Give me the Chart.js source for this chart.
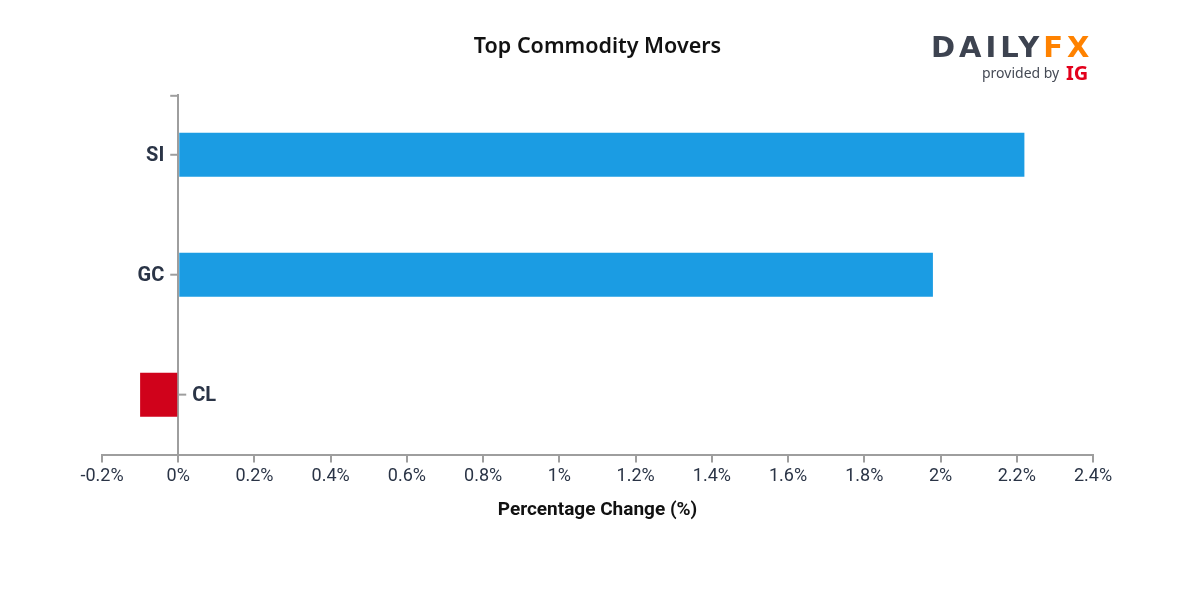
<!DOCTYPE html>
<html>
<head>
<meta charset="utf-8">
<script src="https://cdn.jsdelivr.net/npm/chart.js@4/dist/chart.umd.min.js"></script>
<style>
  html, body { margin: 0; padding: 0; background: #ffffff; }
  #wrap { position: relative; width: 1200px; height: 600px; }
</style>
</head>
<body>
<div id="wrap"><canvas id="c"></canvas></div>
<script>
const categories = ['SI', 'GC', 'CL'];
const values = [2.22, 1.98, -0.10];
const xTickMin = -0.2;
const xTickMax = 2.4;
const xTickStep = 0.2;
const titleText = 'Top Commodity Movers';
const xAxisTitle = 'Percentage Change (%)';

const AXIS_COLOR = '#9e9e9e';
const TEXT_COLOR = '#2a3446';
const POS_COLOR = '#1b9ce3';
const NEG_COLOR = '#d0021b';

const yTicksPlugin = {
  id: 'yTicks',
  afterDraw(chart) {
    const { ctx, scales: { x, y } } = chart;
    const x0 = x.getPixelForValue(0);
    ctx.save();
    ctx.strokeStyle = AXIS_COLOR;
    ctx.lineWidth = 2;
    ctx.beginPath();
    ctx.moveTo(x0 - 8, y.top + 1);
    ctx.lineTo(x0, y.top + 1);
    ctx.stroke();
    ctx.font = 'bold 20px Roboto';
    ctx.fillStyle = TEXT_COLOR;
    ctx.textBaseline = 'middle';
    categories.forEach((c, i) => {
      const py = y.getPixelForValue(i);
      const dir = values[i] < 0 ? 1 : -1;
      ctx.beginPath();
      ctx.moveTo(x0, py);
      ctx.lineTo(x0 + dir * 8, py);
      ctx.stroke();
      ctx.textAlign = dir > 0 ? 'left' : 'right';
      ctx.fillText(c, x0 + dir * 14, py + 1);
    });
    ctx.restore();
  }
};

const logoPlugin = {
  id: 'logo',
  afterDraw(chart) {
    const ctx = chart.ctx;
    ctx.save();
    ctx.textBaseline = 'alphabetic';
    ctx.textAlign = 'left';
    ctx.font = 'bold 29px "DejaVu Sans"';
    ctx.letterSpacing = '4px';
    ctx.fillStyle = '#3d4350';
    ctx.fillText('DAILY', 931, 57);
    const w = ctx.measureText('DAILY').width;
    ctx.fillStyle = '#ff8200';
    ctx.fillText('FX', 931 + w, 57);
    ctx.restore();
    ctx.save();
    ctx.textBaseline = 'alphabetic';
    ctx.textAlign = 'left';
    ctx.font = '14px "Noto Sans"';
    ctx.fillStyle = '#454a55';
    ctx.fillText('provided by', 982, 78);
    ctx.font = 'bold 20px "Noto Sans"';
    ctx.fillStyle = '#e3001b';
    ctx.fillText('IG', 1066, 80);
    ctx.restore();
  }
};

new Chart(document.getElementById('c'), {
  type: 'bar',
  data: {
    labels: categories,
    datasets: [{
      data: values,
      backgroundColor: values.map(v => v < 0 ? NEG_COLOR : POS_COLOR),
      borderWidth: 0,
      categoryPercentage: 1,
      barPercentage: 0.367
    }]
  },
  options: {
    indexAxis: 'y',
    responsive: true,
    maintainAspectRatio: false,
    animation: false,
    events: [],
    layout: { padding: { left: 102, right: 107, top: 0, bottom: 74 } },
    plugins: {
      legend: { display: false },
      tooltip: { enabled: false },
      title: {
        display: true,
        text: titleText,
        color: '#111111',
        font: { family: '"Noto Sans"', size: 21.5, weight: '600', lineHeight: 1.2 },
        padding: { top: 34, bottom: 35 }
      }
    },
    scales: {
      x: {
        type: 'linear',
        position: 'bottom',
        min: xTickMin,
        max: xTickMax,
        ticks: {
          stepSize: xTickStep,
          color: TEXT_COLOR,
          font: { family: 'Roboto', size: 18 },
          padding: 3,
          maxRotation: 0,
          autoSkip: false,
          callback: v => parseFloat(Number(v).toFixed(2)) + '%'
        },
        grid: {
          drawOnChartArea: false,
          drawTicks: true,
          tickLength: 8,
          color: AXIS_COLOR,
          lineWidth: 2
        },
        border: { display: true, color: AXIS_COLOR, width: 2 },
        title: {
          display: true,
          text: xAxisTitle,
          color: '#111111',
          font: { family: 'Roboto', size: 19, weight: 'bold' },
          padding: { top: 9, bottom: 4 }
        }
      },
      y: {
        type: 'category',
        position: { x: 0 },
        offset: true,
        ticks: { display: false },
        grid: { display: false, drawTicks: false },
        border: { display: true, color: AXIS_COLOR, width: 2 }
      }
    }
  },
  plugins: [yTicksPlugin, logoPlugin]
});
</script>
</body>
</html>
